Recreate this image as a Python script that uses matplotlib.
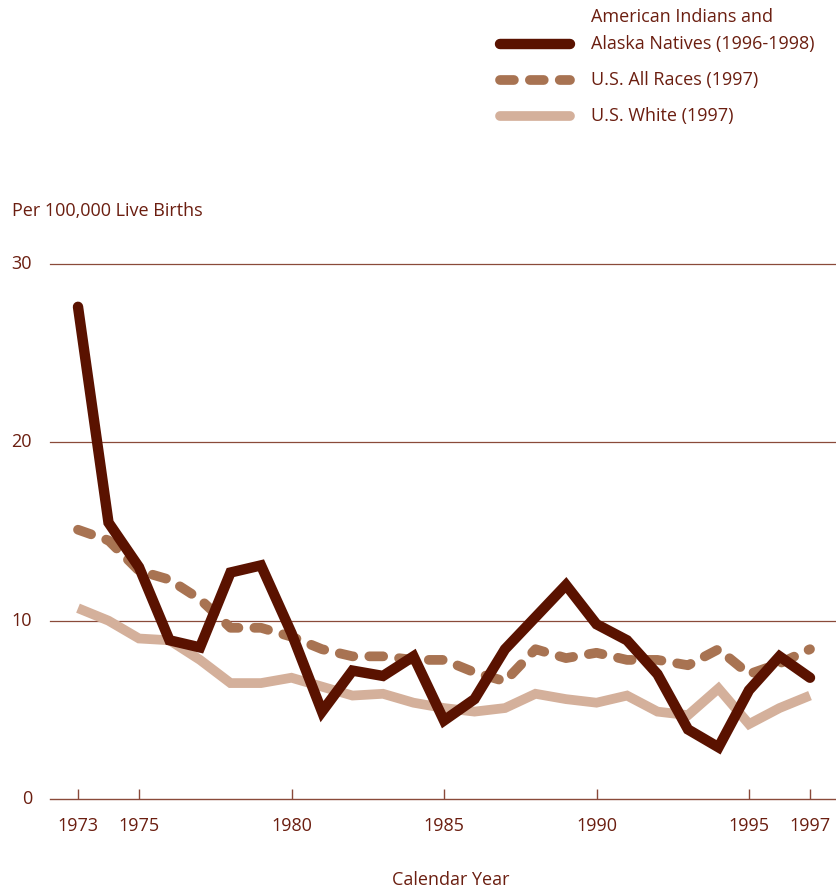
import matplotlib
matplotlib.use("Agg")
import matplotlib.pyplot as plt
from matplotlib.lines import Line2D

plt.rcParams['font.family'] = ['Open Sans', 'DejaVu Sans']
plt.rcParams['lines.scale_dashes'] = False

years = list(range(1973, 1998))
aian = [27.6, 15.5, 13.0, 8.9, 8.5, 12.7, 13.1, 9.3, 4.9, 7.2, 6.9, 8.0, 4.4, 5.6,
        8.4, 10.2, 12.0, 9.8, 8.9, 7.0, 3.9, 2.9, 6.1, 8.0, 6.8]
all_races = [15.1, 14.5, 12.8, 12.3, 11.2, 9.6, 9.6, 9.1, 8.4, 8.0, 8.0, 7.8, 7.8, 7.1,
             6.6, 8.4, 7.9, 8.2, 7.8, 7.8, 7.5, 8.4, 7.0, 7.6, 8.4]
white = [10.7, 10.0, 9.0, 8.9, 7.8, 6.5, 6.5, 6.8, 6.3, 5.8, 5.9, 5.4, 5.1, 4.9,
         5.1, 5.9, 5.6, 5.4, 5.8, 4.9, 4.7, 6.2, 4.2, 5.1, 5.8]
xticks = [1973, 1975, 1980, 1985, 1990, 1995, 1997]
yticks = [0, 10, 20, 30]

c_aian = '#5a1200'
c_all = '#a87352'
c_white = '#d4b09b'
c_text = '#6b1e10'
c_grid = '#8a4a3a'

W, H = 836, 892
fig = plt.figure(figsize=(W / 100, H / 100), dpi=100)
ax = fig.add_axes([50 / W, 1 - 799 / H, 1 - 50 / W, (799 - 264) / H])
ax.set_xlim(1973 - 28 / 30.5, 1997 + 26 / 30.5)
ax.set_ylim(0, 30)

for s in ['top', 'right', 'left']:
    ax.spines[s].set_visible(False)
ax.spines['bottom'].set_color(c_grid)
ax.spines['bottom'].set_linewidth(1.0)

for y in yticks[1:]:
    ax.axhline(y, color=c_grid, lw=0.9, zorder=1, clip_on=False)

ax.plot(years, white, color=c_white, lw=7.0, solid_joinstyle='miter',
        solid_capstyle='butt', zorder=2, clip_on=False)
ax.plot(years, all_races, color=c_all, lw=7.0, linestyle=(0, (10, 11.5)),
        dash_capstyle='round', dash_joinstyle='round', zorder=3, clip_on=False)
ax.plot(years, aian, color=c_aian, lw=7.5, solid_joinstyle='miter',
        solid_capstyle='round', zorder=4, clip_on=False)

ax.set_xticks(xticks)
ax.set_xticklabels([str(x) for x in xticks])
ax.tick_params(axis='x', direction='in', length=7, width=1, color=c_grid,
               labelcolor=c_text, labelsize=13, pad=13)
ax.set_yticks([])
for y in yticks:
    ax.text(1973 - 28 / 30.5 - 18 / 30.5, y, str(y), ha='right', va='center',
            fontsize=13, color=c_text)

fig.text(12 / W, 1 - 211 / H, 'Per 100,000 Live Births', ha='left', va='center',
         fontsize=13, color=c_text)
fig.text(451 / W, 1 - 880 / H, 'Calendar Year', ha='center', va='center',
         fontsize=13, color=c_text)

# legend
def fy(p):
    return 1 - p / H

fig.add_artist(Line2D([500 / W, 570 / W], [fy(44), fy(44)], color=c_aian, lw=7.5,
                      solid_capstyle='round'))
fig.add_artist(Line2D([500 / W, 570 / W], [fy(80), fy(80)], color=c_all, lw=7.0,
                      linestyle=(0, (10, 11.5)), dash_capstyle='round'))
fig.add_artist(Line2D([500 / W, 570 / W], [fy(116), fy(116)], color=c_white, lw=7.0,
                      solid_capstyle='round'))
fig.text(591 / W, fy(17), 'American Indians and', ha='left', va='center',
         fontsize=13, color=c_text)
fig.text(591 / W, fy(44), 'Alaska Natives (1996-1998)', ha='left', va='center',
         fontsize=13, color=c_text)
fig.text(591 / W, fy(80), 'U.S. All Races (1997)', ha='left', va='center',
         fontsize=13, color=c_text)
fig.text(591 / W, fy(116), 'U.S. White (1997)', ha='left', va='center',
         fontsize=13, color=c_text)

fig.savefig('out.png', dpi=100)
